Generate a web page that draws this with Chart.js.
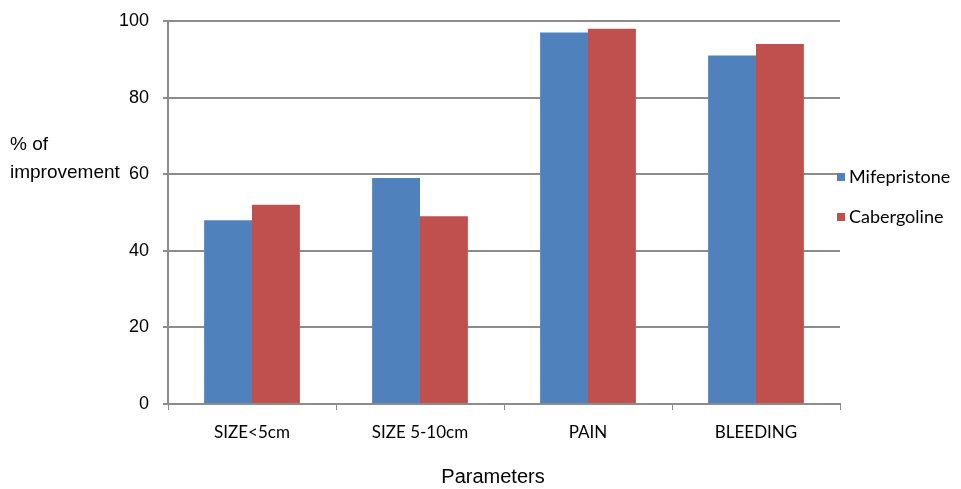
<!DOCTYPE html>
<html>
<head>
<meta charset="utf-8">
<script src="https://cdn.jsdelivr.net/npm/chart.js@4/dist/chart.umd.min.js"></script>
<style>
  html, body { margin: 0; padding: 0; background: #fff; }
  #wrap { width: 961px; height: 489px; position: relative; }
</style>
</head>
<body>
<div id="wrap"><canvas id="grafico"></canvas></div>
<script>
(function () {
  "use strict";

  // ---------- dados ----------
  var categorias = ["SIZE<5cm", "SIZE 5-10cm", "PAIN", "BLEEDING"];
  var mifepristone = [48, 59, 97, 91];
  var cabergoline = [52, 49, 98, 94];
  var nomes = ["Mifepristone", "Cabergoline"];
  var tituloY = ["% of", "improvement"];
  var tituloX = "Parameters";

  var AZUL = "#4F81BD", VERMELHO = "#C0504D", CINZA = "#8c8c8c";
  var TOPO = 21; // topo da área do gráfico

  // o layout deixava o topo em ~24.8px; força o topo e reconfigura o eixo y
  var topoFixo = {
    id: "topoFixo",
    afterLayout: function (ch) {
      var a = ch.chartArea, y = ch.scales.y;
      a.top = TOPO; a.height = a.bottom - TOPO;
      y.top = TOPO; y.height = y.bottom - TOPO;
      y.configure();
    }
  };

  // legenda e títulos dos eixos desenhados à mão (estilo Excel)
  var extras = {
    id: "extras",
    afterDraw: function (ch) {
      var ctx = ch.ctx, area = ch.chartArea;
      ctx.save();
      ctx.fillStyle = "#000";
      ctx.textBaseline = "middle";
      ctx.textAlign = "left";
      ctx.font = "19px 'Liberation Sans', Arial, sans-serif";
      ctx.fillText(tituloY[0], 10, 145);
      ctx.fillText(tituloY[1], 10, 173);

      ctx.textAlign = "center";
      ctx.font = "20px 'Liberation Sans', Arial, sans-serif";
      ctx.fillText(tituloX, 493, 477);

      ctx.textAlign = "left";
      ctx.font = "18px Lato, sans-serif";
      ch.data.datasets.forEach(function (ds, i) {
        var y = 177 + i * 40;
        ctx.fillStyle = ds.backgroundColor;
        ctx.fillRect(area.right - 3, y - 4, 8, 8);
        ctx.fillStyle = "#000";
        ctx.fillText(ds.label, area.right + 9, y);
      });
      ctx.restore();
    }
  };

  new Chart(document.getElementById("grafico"), {
    type: "bar",
    data: {
      labels: categorias,
      datasets: [
        { label: nomes[0], data: mifepristone, backgroundColor: AZUL },
        { label: nomes[1], data: cabergoline, backgroundColor: VERMELHO }
      ]
    },
    options: {
      responsive: true,
      maintainAspectRatio: false,
      animation: false,
      categoryPercentage: 0.57,
      barPercentage: 1.0,
      layout: { autoPadding: false, padding: { top: TOPO, right: 121, left: 0, bottom: 0 } },
      plugins: { legend: { display: false }, tooltip: { enabled: false } },
      scales: {
        x: {
          offset: true,
          grid: { offset: true, drawOnChartArea: false, color: CINZA, tickLength: 6, lineWidth: 1 },
          border: { color: CINZA, width: 2 },
          ticks: { color: "#000", padding: 12, font: { family: "Lato", size: 17 } },
          afterFit: function (s) { s.height = 85; }
        },
        y: {
          min: 0, max: 100,
          ticks: { stepSize: 20, color: "#000", padding: 14, font: { family: "'Liberation Sans', Arial", size: 18 } },
          grid: { color: CINZA, lineWidth: 2, tickLength: 5 },
          border: { color: CINZA, width: 2 },
          afterFit: function (s) { s.width = 168; }
        }
      }
    },
    plugins: [topoFixo, extras]
  });
})();
</script>
</body>
</html>
